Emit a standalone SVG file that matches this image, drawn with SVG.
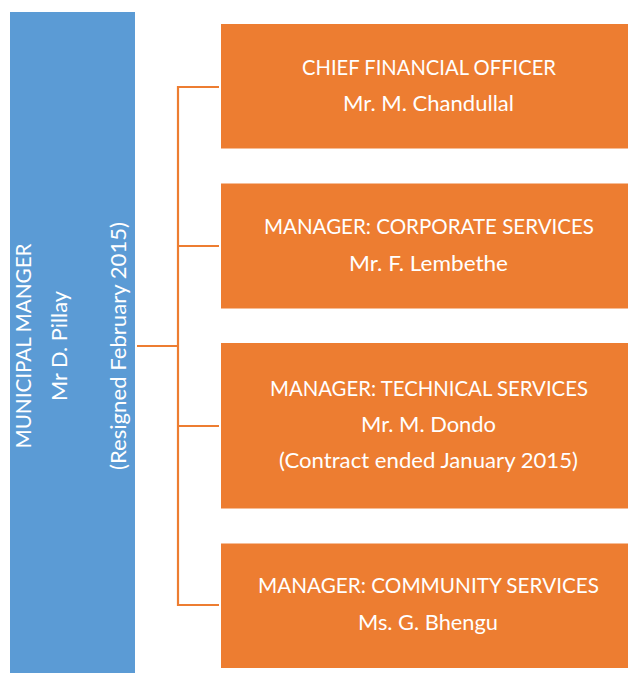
<svg xmlns="http://www.w3.org/2000/svg" width="628" height="674" viewBox="0 0 628 674">
<style>
.blue{fill:#5B9BD5}
.org{fill:#ED7D31}
.t{font-family:Lato,"Liberation Sans",Arial,sans-serif;font-size:21px;fill:#FFFFFF;text-anchor:middle}
.conn{stroke:#ED7D31;stroke-width:2.2;fill:none}
</style>
<rect width="628" height="674" fill="#FFFFFF"/>
<g id="connectors">
<path class="conn" d="M137,346 H178 M178,86 V606 M178,87 H219 M178,246 H219 M178,426 H219 M178,605 H219"/>
</g>
<g id="municipal-manager">
<rect class="blue" x="10" y="12" width="125" height="661"/>
<g transform="translate(0,346) rotate(-90)">
<text class="t" x="0" y="30.5" textLength="205" lengthAdjust="spacingAndGlyphs">MUNICIPAL MANGER</text>
<text class="t" x="0" y="66.5" textLength="110" lengthAdjust="spacingAndGlyphs">Mr D. Pillay</text>
<text class="t" x="0" y="126" textLength="248" lengthAdjust="spacingAndGlyphs">(Resigned February 2015)</text>
</g>
</g>
<g id="cfo">
<rect class="org" x="221" y="24" width="407" height="124.5"/>
<text class="t" x="429" y="75" textLength="254" lengthAdjust="spacingAndGlyphs">CHIEF FINANCIAL OFFICER</text>
<text class="t" x="428.5" y="111" textLength="171" lengthAdjust="spacingAndGlyphs">Mr. M. Chandullal</text>
</g>
<g id="corporate">
<rect class="org" x="221" y="183.5" width="407" height="125"/>
<text class="t" x="429" y="234" textLength="330" lengthAdjust="spacingAndGlyphs">MANAGER: CORPORATE SERVICES</text>
<text class="t" x="428.5" y="270.5" textLength="159" lengthAdjust="spacingAndGlyphs">Mr. F. Lembethe</text>
</g>
<g id="technical">
<rect class="org" x="221" y="343" width="407" height="165.5"/>
<text class="t" x="429" y="395.5" textLength="318" lengthAdjust="spacingAndGlyphs">MANAGER: TECHNICAL SERVICES</text>
<text class="t" x="428.5" y="432" textLength="135" lengthAdjust="spacingAndGlyphs">Mr. M. Dondo</text>
<text class="t" x="428.5" y="467.5" textLength="299" lengthAdjust="spacingAndGlyphs">(Contract ended January 2015)</text>
</g>
<g id="community">
<rect class="org" x="221" y="543.5" width="407" height="124.5"/>
<text class="t" x="428.5" y="593" textLength="341" lengthAdjust="spacingAndGlyphs">MANAGER: COMMUNITY SERVICES</text>
<text class="t" x="428" y="630" textLength="140" lengthAdjust="spacingAndGlyphs">Ms. G. Bhengu</text>
</g>
</svg>
